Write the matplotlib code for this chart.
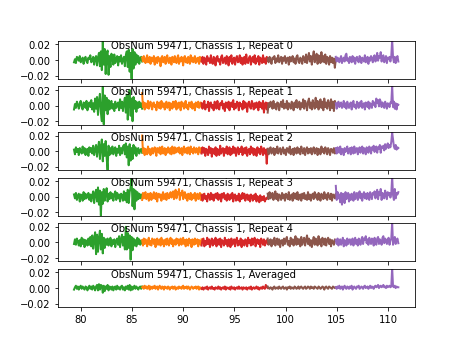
import matplotlib
matplotlib.use("Agg")
import matplotlib.pyplot as plt
import numpy as np

# band edges (x) and colours of the five segments
edges = [79.35, 86.0, 91.8, 98.25, 104.9, 111.0]
colors = ["tab:green", "tab:orange", "tab:red", "tab:brown", "tab:purple"]

titles = ["ObsNum 59471, Chassis 1, Repeat 0",
          "ObsNum 59471, Chassis 1, Repeat 1",
          "ObsNum 59471, Chassis 1, Repeat 2",
          "ObsNum 59471, Chassis 1, Repeat 3",
          "ObsNum 59471, Chassis 1, Repeat 4",
          "ObsNum 59471, Chassis 1, Averaged"]

# values in units of 1e-3
g0 = [-3, 1, -4, 4, 2, -1, 5, -3, 0, 3, -5, 2, 4, -2, -4, 3, 1, 6, -3, -1, 4, -6, 2, 5, -7, 3, 9, -8, 11, -13, 24, -6, 14, -18, 7, 12, -19, 5, -9, 8, 3, -6, 7, -4, 2, 5, -7, 4, -2, 6, -5, 1, 4, -8, 6, 11, -9, 13, -15, 9, -24, 14, -11, 10, -6, 7, -3, 5, -5, 2, 4, -2]
o0 = [3, -2, 5, 1, -4, 2, 6, -3, -1, 4, -5, 3, 2, -2, 5, -6, 1, 3, -4, 4, -1, 2, -8, 3, 5, -3, 0, 4, -5, 2, 6, -2, -4, 3, 1, -6, 4, 2, -3, 5, -1, -4, 3, 6, -5, 2, -2, 4, 1, -7, 3, 5, -3, 2, -4, 4, 0, -5, 6, -2, 3, -3, 1, 5, -4, 2, -2, 3, -5, 4, 1, -2]
r0 = [-2, 4, -5, 3, 1, -6, 5, -1, 2, -4, 6, -3, -5, 4, 2, -7, 3, 5, -2, 1, -6, 4, 6, -4, -1, 3, -5, 5, 2, -7, 4, -2, 6, -5, 1, 3, -6, 2, 5, -3, -1, 6, -4, 3, -6, 2, 4, -5, 7, -2, -4, 3, 5, -6, 1, 4, -3, 6, -5, 2, -2, 5, -6, 3, 1, -4, 6, -3, 2, -5, 4, -1]
b0 = [2, -3, 4, -1, -5, 3, 1, 5, -4, 2, -2, 6, -3, 1, 4, -5, 3, -1, 5, -4, 2, 3, -6, 4, -2, 1, 5, -3, 2, -5, 4, 6, -2, -4, 3, 1, -5, 5, 2, -3, 7, -4, 3, 9, -2, 5, -6, 4, 11, -3, 2, 8, -5, 6, 3, -4, 10, -2, 5, -3, 7, -5, 4, 2, -6, 5, -3, 3, -4, 2, -10, 1]
p0 = [4, -2, 3, 1, -3, 2, 5, -4, 1, 3, -2, 6, 8, -1, 2, -4, 4, 1, -3, 5, -2, 3, -5, 2, 4, -1, -3, 5, 2, -4, 3, 1, -2, 6, -3, 2, 4, -5, 3, -1, 5, 2, -3, 4, 6, -2, 1, 9, -1, 5, 3, 10, -2, 4, 6, -3, 2, 5, -4, 3, 1, 4, -2, 5, 26, 3, -3, 4, -4, 2, 5, -2]

g1 = [-5, 2, -3, 5, 1, -4, 3, 6, -2, -5, 4, 2, -3, 6, -6, 1, 4, -2, 7, -5, 3, -8, 9, -4, 11, -12, 6, 15, -9, -20, 24, -24, 13, -6, 10, -11, 7, -5, 3, 6, -4, 2, -7, 5, -3, 1, 4, -6, 8, -3, 5, -7, 3, 10, -9, 14, -18, 8, 20, -13, 9, -20, 11, -4, 6, -8, 4, -3, 5, -2, 3, -4]
o1 = [16, -2, 4, -5, 3, 1, -3, 6, -4, 2, 5, -1, -5, 3, 4, -2, 1, -6, 5, 2, -3, 4, -4, 6, 1, -2, 3, -5, 2, 5, -3, -1, 4, -6, 3, 2, -4, 5, -2, 1, 6, -5, 3, -3, 4, 2, -6, 5, -1, 3, -4, 2, 6, -3, 1, -5, 4, 3, -2, 5, -4, 1, 2, -6, 4, 3, -2, 5, -3, 1, 4, -2]
r1 = [3, -4, 2, 6, -5, 1, -2, 5, -7, 3, 4, -3, 1, -6, 5, 2, -4, 6, -2, -5, 3, 1, 6, -4, 2, -7, 4, 3, -3, 5, -6, 1, 4, -2, 7, -5, 2, -3, 5, 3, -6, 4, -1, 2, -5, 6, -3, 4, 1, -8, 3, 5, -2, -4, 6, 2, -5, 3, -3, 4, 1, -6, 5, -2, 3, -4, 6, -9, 2, 4, -5, 3]
b1 = [-9, 3, -2, 5, 1, -4, 6, -3, 2, -5, 4, 3, -6, 1, 5, -2, 7, -4, 2, -3, 6, -5, 3, 1, -4, 5, 2, -6, 4, -2, 7, -3, 1, 5, -5, 3, -2, 8, -4, 6, 2, -6, 5, 9, -3, 4, -5, 7, 1, -4, 10, -2, 6, -5, 3, 8, -3, 5, -6, 9, -2, 4, -4, 7, 2, -6, 8, -3, 5, -7, 6, 2]
p1 = [3, -4, 2, 5, -2, 1, 4, -3, -1, 6, -2, 3, -4, 5, 1, -3, 2, 4, -5, 3, 6, -2, 1, -4, 5, 2, -3, 4, -1, 6, -3, 2, 3, -5, 4, 1, -2, 5, -4, 3, 2, -3, 6, 1, 4, -2, 9, 3, 7, -1, 8, 5, -2, 4, 1, -3, 5, 2, -4, 3, 1, -2, 4, 3, 26, -2, 5, -4, 3, -5, 2, 1]

g2 = [2, -4, 5, -1, 3, -5, 4, 1, -3, 6, -2, 4, -5, 2, 3, -6, 5, -1, 4, -3, 7, -5, 2, 8, -7, 4, 12, -10, 6, 15, -13, 9, -6, 13, -8, -24, 7, -5, 4, -3, 6, -4, 2, 5, -6, 3, -2, 7, -5, 4, -3, 6, 8, -4, 10, -8, 6, -18, 9, -12, 4, -10, 8, -3, 5, -6, 2, 4, -3, 1, 3, -2]
o2 = [20, -2, 4, -5, 3, 1, -4, 6, -2, 3, -5, 2, 4, -3, 1, 5, -1, -6, 4, 3, -2, 5, -4, 1, 6, -3, 2, 4, -5, 3, -2, 5, 1, -3, 4, -4, 6, 2, -3, 5, -2, 3, 4, -1, 5, -3, 2, 4, -5, 3, 6, -2, 1, 4, -3, 5, 2, -4, 6, -1, 3, -3, 5, 2, -2, 4, 1, -4, 5, 3, -2, 4]
r2 = [-3, 5, -2, 4, -6, 3, 1, -5, 6, -2, 4, -7, 3, 2, -4, 5, -6, 3, 1, -5, 7, -3, 2, 4, -6, 3, -2, 6, -4, 1, 5, -5, 3, -3, 6, -2, 4, -6, 2, 5, -4, 3, -1, 6, -5, 2, 4, -3, 5, -6, 1, 3, -4, 6, -2, 4, -5, 3, 1, -6, 5, -2, 3, -4, 6, 2, -5, 4, -3, 2, -16, 3]
b2 = [3, -4, 2, 5, -3, 1, 4, -5, 3, -2, 6, -3, 2, 4, -4, 1, 5, -3, 2, -5, 4, 3, -2, 6, -4, 1, 3, -5, 4, 2, -3, 5, -2, 3, -4, 6, 1, -3, 4, -5, 2, 5, -3, 3, -2, 4, -4, 2, 5, -3, 1, 4, -5, 3, 2, -4, 6, -1, 3, -3, 5, 2, -4, 4, 1, -5, 3, 2, -2, 4, -3, 1]
p2 = [4, -3, 5, 1, -2, 6, -4, 3, 2, -5, 4, -1, 3, 6, -3, 2, 4, -4, 5, 1, -3, 6, -2, 3, 4, -4, 2, 5, -2, 3, 6, -3, 4, 2, -4, 5, 1, -2, 6, 3, -3, 5, 2, 7, -1, 4, 6, -2, 5, 3, 8, -2, 6, 4, 7, 1, 9, 3, 6, 10, 4, 8, 5, 12, 24, 15, 6, 3, 8, 2, 5, 4]

g3 = [3, -2, 5, -4, 1, 4, -6, 3, 2, -5, 6, -3, 4, -2, 1, 5, -4, 3, -6, 2, 7, -8, 4, 9, -6, 12, -10, 8, -24, 6, -9, 10, -5, 3, 11, -6, 4, -3, 6, -2, 4, -5, 3, 7, -4, 5, -2, 3, -6, 4, 2, -5, 7, -4, 5, -7, 9, -8, 6, 12, 24, -12, 10, -16, 8, -5, 6, -3, 4, -2, 3, -1]
o3 = [-4, 5, -2, 3, 6, -3, 1, 4, -5, 2, 5, -4, 3, -2, 6, 1, -3, 5, -6, 2, 4, -1, 3, -5, 2, 6, -3, 1, 4, -4, 5, 2, -2, 3, 6, -1, 4, 7, -3, 5, 9, -2, 6, 3, 10, -4, 5, 2, 8, -3, 4, 6, -2, 3, -5, 4, 1, -3, 5, -4, 2, 3, -2, 5, -5, 1, 4, -3, 2, 5, -4, 3]
r3 = [2, -5, 3, 4, -3, 1, -6, 4, 2, -4, 5, -3, 3, -5, 1, 4, -2, 5, -4, 2, 3, -6, 4, -1, 5, -3, 2, -5, 4, 1, -4, 3, -2, 5, -6, 2, 3, -5, 1, -4, 4, -6, 2, -3, 5, -2, 4, -5, 1, 3, -4, 2, -6, 3, 1, -5, 2, -3, 4, -6, 1, -2, -7, 2, -5, 0, -4, 1, -6, -2, -3, 0]
b3 = [4, -3, 6, -2, 3, 5, -4, 2, 7, -3, 4, -5, 3, 1, -4, 5, -2, 3, -5, 4, 2, -3, 6, -4, 1, 3, -5, 5, -2, 4, -3, 6, -4, 2, 3, -5, 4, -2, 5, -3, 2, -4, 6, -3, 3, -5, 2, 4, -3, 6, -1, 3, -4, 5, 2, -5, 4, 1, -3, 6, -2, 3, -4, 5, 1, -3, 4, -5, 3, 2, -2, 4]
p3 = [14, -4, 6, -2, 3, -7, 5, -10, 4, 1, -8, 6, -3, 2, 5, -6, 3, -4, 4, 2, -5, 6, -3, 1, 5, -4, 3, 7, -2, 4, -5, 3, 6, -2, 4, -3, 5, 1, -4, 6, 2, -3, 5, 3, 7, -2, 4, 9, -3, 6, 2, 10, -4, 5, 3, -2, 8, 4, -3, 6, 2, 5, -1, 4, 26, 2, -4, 10, -2, 5, 3, 6]

g4 = [-2, 4, -3, 5, 1, -4, 3, -5, 6, -2, 4, -6, 3, 2, -4, 5, -3, 7, -5, 9, -8, 4, 13, -15, 10, -12, 6, 15, -9, 11, -14, 6, -7, 4, -3, 5, -4, 2, 6, -5, 3, -2, 4, -6, 2, 5, -3, 8, -6, 4, 10, -4, 7, -9, 20, -9, 12, -7, 9, -22, 7, -10, 5, -4, 3, -5, 6, -2, 4, -3, 2, -1]
o4 = [3, -4, 5, -2, 4, 1, -5, 3, 6, -3, 2, -4, 5, 3, -2, 4, -6, 2, 5, -3, 1, 4, -4, 6, -2, 3, -5, 2, 4, -3, 5, 1, -4, 3, 6, -2, 4, -5, 2, 3, -3, 5, -1, 4, -4, 2, 5, -3, 1, 6, -2, 3, -5, 4, 2, -4, 5, -1, 3, -6, 4, 2, -3, 5, -2, 1, 4, -5, 3, 2, -3, 4]
r4 = [-4, 3, 5, -5, 2, -3, 6, -2, 4, -6, 1, 5, -4, 3, -2, 6, -5, 2, 4, -3, 5, -6, 3, 1, -4, 6, -2, 3, -5, 4, 2, -6, 5, -3, 1, 4, -5, 3, 6, -4, 2, -3, 5, -6, 3, 1, -4, 4, 2, -5, 6, -1, 3, -4, 5, -3, 2, 6, -5, 1, 4, -2, 3, -6, 5, 2, -3, 4, -4, 1, 3, -2]
b4 = [5, -3, 2, 4, -5, 3, -2, 6, -4, 1, 5, -3, 4, -6, 2, 3, -4, 5, -2, 4, 7, -3, 2, -5, 6, -2, 4, -4, 3, 8, -3, 5, -2, 4, -5, 7, -3, 2, 6, -4, 3, 9, -2, 5, -4, 3, -6, 2, 7, -3, 5, 1, -4, 8, -2, 4, -5, 6, 2, -3, 5, -4, 3, 6, -2, 4, -5, 3, 1, -3, 4, 2]
p4 = [3, -2, 5, -4, 2, 4, -3, 1, 6, -5, 3, 2, -4, 5, -2, 3, 4, -3, 1, 5, -4, 2, 6, -2, 3, -4, 5, 2, -3, 4, 7, -2, 5, 3, 8, -1, 4, -3, 6, 2, -2, 5, 3, -4, 6, 1, -3, 5, 7, -2, 4, 2, -3, 6, 8, -1, 5, 3, -2, 4, 6, -3, 2, 5, 26, -3, 4, 7, -2, 3, 5, -1]

g5 = [-2, 1, 3, -1, 2, -2, 1, 3, -1, 2, 0, -2, 2, 1, -3, 1, 3, -1, 2, -2, 3, 1, -3, 2, 4, -3, 5, -2, 4, 3, -6, 3, -4, 2, -1, 4, -3, 2, 1, -2, 2, -3, 1, 2, -2, 3, -1, 1, -2, 2, 3, -2, 1, -3, 2, -1, 3, -2, 4, -3, 2, -2, 1, 3, -1, 2, 0, -2, 1, 2, -1, 2]
o5 = [1, 2, -1, 3, 0, 2, -1, 1, 3, -2, 2, 1, -1, 2, 0, 3, -1, 1, 2, -2, 1, 3, 0, -1, 2, 1, -2, 2, 0, 1, -1, 2, 1, -2, 1, 0, 2, -1, 1, 2, -2, 0, 1, -1, 2, 0, 1, -1, 2, 3, -1, 1, 0, 2, -1, 2, 1, -2, 0, 2, 1, -1, 1, 0, 2, -1, 1, 2, -2, 1, 0, -1]
r5 = [-1, 1, -2, 0, 1, -1, 2, -2, 0, 1, -1, 2, -1, 0, -2, 1, 0, -1, 2, -1, 1, -2, 0, 1, -1, 2, -2, 1, 0, -1, 1, -2, 2, 0, -1, 1, -2, 0, 1, -1, 2, -1, 0, 1, -2, 1, 0, -1, 1, -2, 0, 1, -1, 2, -2, 0, 1, -1, 0, 2, -1, 1, -2, 0, 1, -1, 2, 0, -1, 4, 1, 0]
b5 = [2, 0, -1, 1, 0, -2, 1, 2, -1, 0, 1, -1, 2, 0, -1, 1, 2, -1, 0, 1, -2, 1, 0, 2, -1, 1, 0, -1, 2, 1, -1, 0, 2, -1, 1, 2, 0, -1, 1, 2, -1, 0, 2, 1, -1, 2, 0, 1, -1, 2, 1, 0, -1, 2, 1, -1, 0, 2, 1, -2, 1, 2, 0, -1, 2, 1, 0, -1, 2, 1, 0, 1]
p5 = [1, -1, 2, 0, 3, -1, 1, 2, -2, 1, 3, 0, -1, 2, 1, -1, 2, 0, 3, -2, 1, 2, 0, -1, 2, 1, 3, -1, 0, 2, 1, -1, 2, 3, 0, 1, 2, -1, 1, 3, 0, 2, 1, -1, 2, 3, 1, 2, 4, 0, 2, 3, 1, 2, 4, 1, 2, 0, 3, 1, 2, 3, 1, 2, 26, 2, 1, 3, 0, 2, 1, 1]

panels = [[g0, o0, r0, b0, p0],
          [g1, o1, r1, b1, p1],
          [g2, o2, r2, b2, p2],
          [g3, o3, r3, b3, p3],
          [g4, o4, r4, b4, p4],
          [g5, o5, r5, b5, p5]]

fig, axes = plt.subplots(6, 1, sharex=True, sharey=True, figsize=(6.4, 4.8), dpi=72)

for ax, segs, title in zip(axes, panels, titles):
    for k, vals in enumerate(segs):
        x = np.linspace(edges[k], edges[k + 1], len(vals))
        ax.plot(x, np.array(vals) * 1e-3, color=colors[k], lw=2.0)
    ax.text(0.149, 0.79, title, transform=ax.transAxes, fontsize=10)

axes[0].set_ylim(-0.0242, 0.0244)
axes[0].set_yticks([-0.02, 0.0, 0.02])
axes[0].set_xlim(77.75, 112.6)

fig.savefig("out.png", dpi=72)
